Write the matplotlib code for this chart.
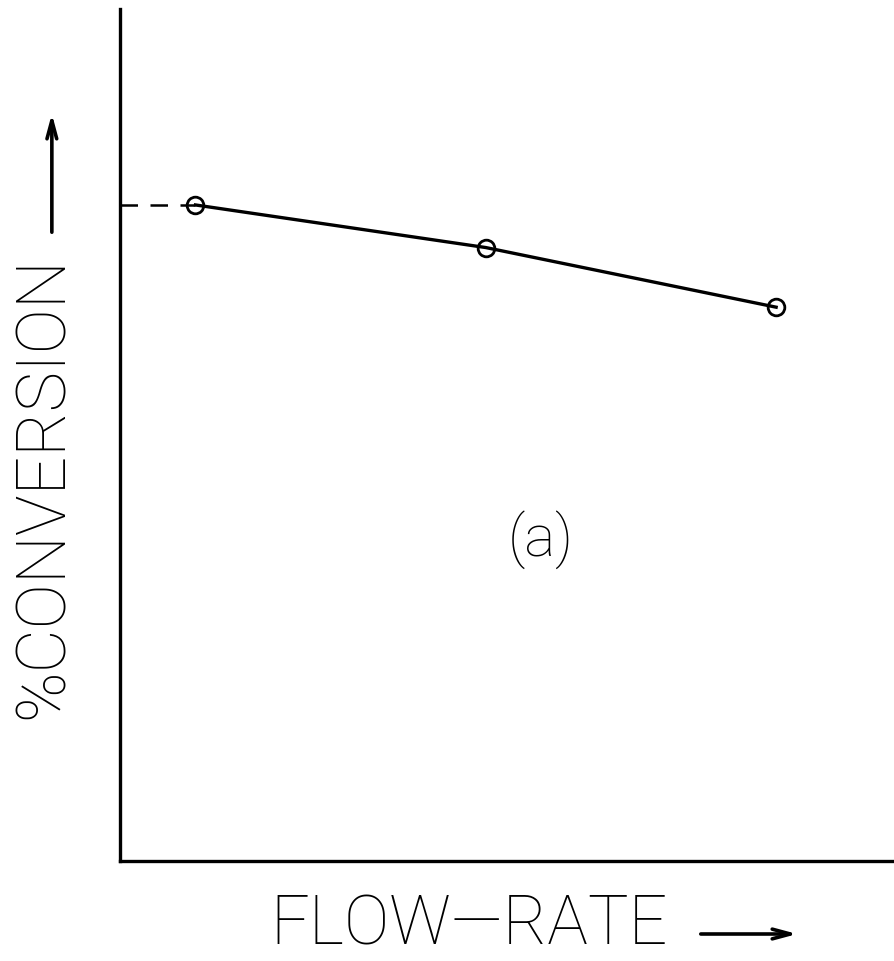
import matplotlib
matplotlib.use("Agg")
import matplotlib.pyplot as plt

# flow rate (arbitrary units) and % conversion
flow_rate = [1, 2, 3]
conversion = [77, 72, 65]

plt.rcParams['font.family'] = ['Roboto', 'DejaVu Sans']

fig = plt.figure(figsize=(8.94, 9.62), dpi=100)
ax = fig.add_axes([0.1342, 0.104, 0.8658, 0.8856])

ax.set_xlim(0.74, 3.406)
ax.set_ylim(0, 100)

# dashed guide from the y axis to the first point
ax.plot([0.74, flow_rate[0]], [conversion[0], conversion[0]], color='black',
        lw=1.8, dashes=(7, 5))
ax.plot(flow_rate, conversion, color='black', lw=2.4, marker='o', ms=12,
        mfc='none', mec='black', mew=2.0)

ax.text(0.543, 0.378, '(a)', transform=ax.transAxes, fontsize=42,
        fontweight='light', ha='center', va='center')

for s in ['top', 'right']:
    ax.spines[s].set_visible(False)
for s in ['left', 'bottom']:
    ax.spines[s].set_linewidth(2.4)
ax.set_xticks([])
ax.set_yticks([])

# axis labels with hand drawn style arrows
fig.text(0.049, 0.4935, '%CONVERSION', rotation=90, fontsize=49,
         fontweight='light', ha='center', va='center')
ax.annotate('', xy=(0.058, (962 - 112) / 962), xytext=(0.058, (962 - 236) / 962),
            xycoords='figure fraction', textcoords='figure fraction',
            arrowprops=dict(arrowstyle='->,head_length=1.3,head_width=0.35', lw=2.6))

fig.text(0.525, 0.0374, 'FLOW\u2014RATE', fontsize=49, fontweight='light',
         ha='center', va='center')
ax.annotate('', xy=(800 / 894, (962 - 935) / 962), xytext=(698 / 894, (962 - 935) / 962),
            xycoords='figure fraction', textcoords='figure fraction',
            arrowprops=dict(arrowstyle='->,head_length=1.3,head_width=0.35', lw=2.6))

fig.savefig('out.png', dpi=100)
